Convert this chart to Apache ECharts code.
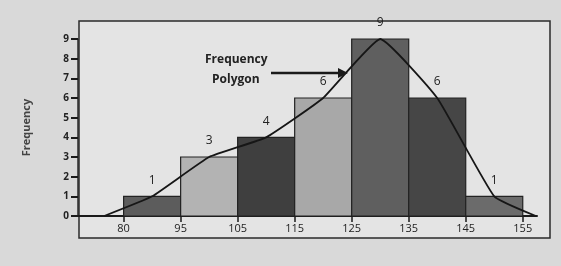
<!DOCTYPE html>
<html>
<head>
<meta charset="utf-8">
<script src="https://cdn.jsdelivr.net/npm/echarts@6/dist/echarts.min.js"></script>
<style>
  html, body { margin: 0; padding: 0; background: #d9d9d9; }
  #chart { width: 561px; height: 266px; }
</style>
</head>
<body>
<div id="chart"></div>
<script>
  // bin edges (x labels) and frequencies
  var edgeLabels = ['80', '95', '105', '115', '125', '135', '145', '155'];
  var freqs = [1, 3, 4, 6, 9, 6, 1];
  var barColors = ['#5c5c5c', '#b3b3b3', '#3f3f3f', '#a8a8a8', '#5f5f5f', '#464646', '#6b6b6b'];
  // frequency polygon, x in bin units (0 = 80)
  var polyX = [-0.34, 0.5, 1.5, 2.5, 3.5, 4.5, 5.5, 6.5, 7.23];
  var polyY = [0, 1, 3, 4, 6, 9, 6, 1, 0];
  var yTicks = [0, 1, 2, 3, 4, 5, 6, 7, 8, 9];

  var bins = freqs.map(function (f, i) { return [i, i + 1, f]; });
  var poly = polyX.map(function (x, i) { return [x, polyY[i]]; });
  var edgePos = edgeLabels.map(function (l, i) { return i; });

  var myChart = echarts.init(document.getElementById('chart'));
  var option = {
    backgroundColor: '#d9d9d9',
    animation: false,
    graphic: [
      { // frame around the plot
        type: 'rect', z: -10, silent: true,
        shape: { x: 79, y: 21, width: 471, height: 217 },
        style: { fill: '#e4e4e4', stroke: '#2a2a2a', lineWidth: 1.5 }
      },
      {
        type: 'text', left: 205, top: 54, z: 10,
        style: { text: 'Frequency', font: 'bold 12px "Open Sans"', fill: '#222' }
      },
      {
        type: 'text', left: 212, top: 74, z: 10,
        style: { text: 'Polygon', font: 'bold 12px "Open Sans"', fill: '#222' }
      },
      {
        type: 'line', z: 10,
        shape: { x1: 271, y1: 73, x2: 340, y2: 73 },
        style: { stroke: '#1a1a1a', lineWidth: 2.5 }
      },
      {
        type: 'polygon', z: 10,
        shape: { points: [[348, 73], [338, 68], [338, 78]] },
        style: { fill: '#1a1a1a' }
      }
    ],
    grid: { left: 78, right: 24, top: 39, bottom: 50 },
    xAxis: {
      type: 'value',
      min: -0.8,
      max: 7.25,
      splitLine: { show: false },
      axisLine: { show: true, onZero: false, lineStyle: { color: '#1a1a1a', width: 2 } },
      axisTick: { show: true, customValues: edgePos, length: 6, lineStyle: { color: '#1a1a1a', width: 1.5 } },
      axisLabel: {
        customValues: edgePos,
        margin: 7,
        color: '#222',
        fontSize: 11,
        fontFamily: 'Open Sans',
        formatter: function (v) { return edgeLabels[Math.round(v)]; }
      }
    },
    yAxis: {
      type: 'value',
      min: 0,
      max: 9,
      interval: 1,
      name: 'Frequency',
      nameLocation: 'middle',
      nameGap: 46,
      nameTextStyle: { color: '#444', fontSize: 11, fontWeight: 'bold', fontFamily: 'Open Sans' },
      splitLine: { show: false },
      axisLine: { show: true, onZero: false, lineStyle: { color: '#2a2a2a', width: 1.5 } },
      axisTick: { show: true, length: 7, lineStyle: { color: '#1a1a1a', width: 2 } },
      axisLabel: {
        margin: 9, color: '#222', fontSize: 10, fontWeight: 'bold', fontFamily: 'Open Sans',
        formatter: function (v) { return yTicks.indexOf(v) >= 0 ? String(v) : ''; }
      }
    },
    series: [
      {
        type: 'custom',
        data: bins,
        encode: { x: [0, 1], y: 2 },
        renderItem: function (params, api) {
          var p0 = api.coord([api.value(0), 0]);
          var p1 = api.coord([api.value(1), api.value(2)]);
          var mid = (p0[0] + p1[0]) / 2;
          return {
            type: 'group',
            children: [
              {
                type: 'rect',
                shape: { x: p0[0], y: p1[1], width: p1[0] - p0[0], height: p0[1] - p1[1] },
                style: { fill: barColors[params.dataIndex], stroke: '#222', lineWidth: 1.2 }
              },
              {
                type: 'text',
                style: {
                  text: String(api.value(2)), x: mid, y: p1[1] - 10,
                  align: 'center', verticalAlign: 'bottom',
                  font: '12px "Open Sans"', fill: '#222'
                }
              }
            ]
          };
        }
      },
      {
        type: 'line',
        data: poly,
        smooth: 0.12,
        showSymbol: false,
        z: 5,
        lineStyle: { color: '#161616', width: 1.8 }
      }
    ]
  };
  myChart.setOption(option);
</script>
</body>
</html>
